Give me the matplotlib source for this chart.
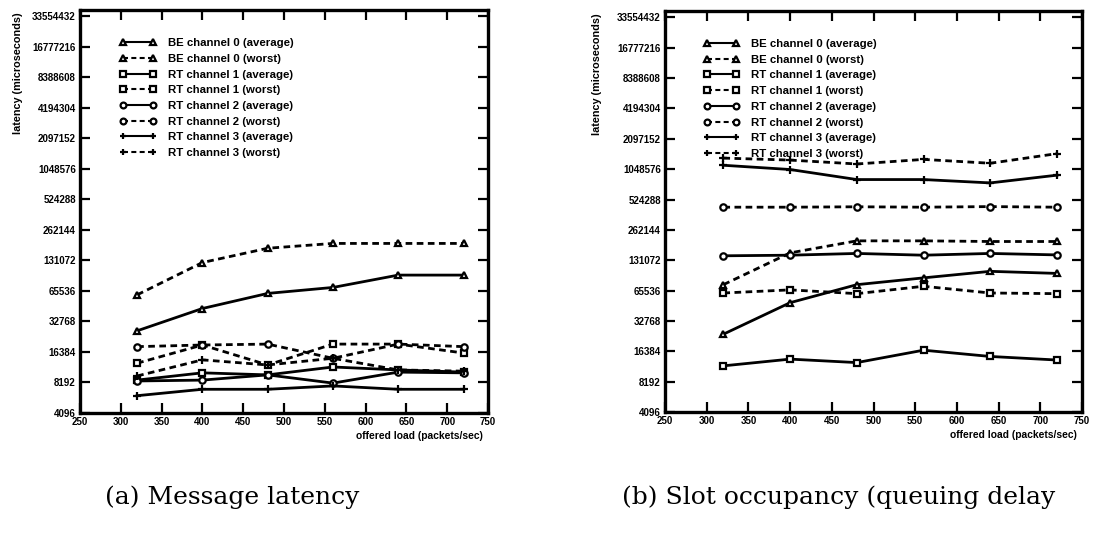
import matplotlib
matplotlib.use("Agg")
import matplotlib.pyplot as plt
from matplotlib.ticker import FixedLocator, NullLocator

# offered load (packets/sec)
load = [320, 400, 480, 560, 640, 720]

# (a) message latency, microseconds
lat_be0_avg = [26500, 44000, 62000, 71000, 94000, 94000]
lat_be0_worst = [60000, 125000, 173000, 193000, 193000, 193000]
lat_rt1_avg = [8650, 10200, 9740, 11650, 10900, 10370]
lat_rt1_worst = [12700, 19200, 12200, 19600, 19600, 16000]
lat_rt2_avg = [8480, 8650, 9740, 8080, 10370, 10200]
lat_rt2_worst = [18500, 19200, 19600, 14200, 19600, 18500]
lat_rt3_avg = [6070, 7020, 7020, 7580, 7020, 7020]
lat_rt3_worst = [9500, 13700, 12200, 14200, 10900, 10600]

# (b) slot occupancy (queuing delay), microseconds
occ_be0_avg = [24200, 49700, 75000, 87600, 101700, 97000]
occ_be0_worst = [75000, 155000, 204000, 204000, 201000, 201000]
occ_rt1_avg = [11750, 13700, 12660, 16800, 14560, 13420]
occ_rt1_worst = [62000, 66600, 61100, 72300, 62000, 61100]
occ_rt2_avg = [145000, 147000, 153000, 147000, 153000, 148000]
occ_rt2_worst = [440000, 440000, 444000, 440000, 446000, 440000]
occ_rt3_avg = [1146000, 1040000, 827000, 827000, 766000, 914000]
occ_rt3_worst = [1350000, 1290000, 1180000, 1310000, 1200000, 1495000]

series_names = [
    "BE channel 0 (average)", "BE channel 0 (worst)",
    "RT channel 1 (average)", "RT channel 1 (worst)",
    "RT channel 2 (average)", "RT channel 2 (worst)",
    "RT channel 3 (average)", "RT channel 3 (worst)",
]

x_ticks = [250, 300, 350, 400, 450, 500, 550, 600, 650, 700, 750]
y_ticks = [2 ** k for k in range(12, 26)]

caption_a = "(a) Message latency"
caption_b = "(b) Slot occupancy (queuing delay"
y_title = "latency (microseconds)"
x_title = "offered load (packets/sec)"

markers = ["^", "^", "s", "s", "o", "o", "+", "+"]
styles = ["-", "--"] * 4

SANS = "Liberation Sans"

fig = plt.figure(figsize=(10.93, 5.34), dpi=100)


def draw_panel(rect, data, leg_x):
    ax = fig.add_axes(rect)
    ax.set_yscale("log", base=2)
    for vals, name, mk, ls in zip(data, series_names, markers, styles):
        kw = dict(color="black", lw=2.0, marker=mk, ms=4.6 if mk != "+" else 6,
                  mfc="white", mec="black", mew=1.6, label=name)
        if ls == "--":
            kw["dashes"] = (2.4, 1.6)
        else:
            kw["linestyle"] = "-"
        ax.plot(load, vals, **kw)
    ax.set_xlim(250, 750)
    ax.set_ylim(4096, 2 ** 25.21)
    ax.xaxis.set_major_locator(FixedLocator(x_ticks))
    ax.set_xticklabels([str(v) for v in x_ticks])
    ax.yaxis.set_major_locator(FixedLocator(y_ticks))
    ax.yaxis.set_minor_locator(NullLocator())
    ax.set_yticklabels([str(v) for v in y_ticks])
    ax.tick_params(direction="in", length=7, width=1.6, top=True, right=True,
                   labelsize=7, pad=3)
    for lab in ax.get_xticklabels() + ax.get_yticklabels():
        lab.set_fontfamily(SANS)
        lab.set_fontweight("bold")
    for sp in ax.spines.values():
        sp.set_linewidth(2.4)
    leg = ax.legend(loc="upper left", bbox_to_anchor=(leg_x, 0.93),
                    frameon=False, numpoints=2, handlelength=3.2,
                    handletextpad=1.0, labelspacing=0.5, borderpad=0,
                    borderaxespad=0,
                    prop={"family": SANS, "weight": "bold", "size": 8.2})
    for h in leg.legend_handles:
        h.set_linewidth(1.5)
        h.set_markersize(4.2)
    ax.text(0.988, -0.058, x_title, transform=ax.transAxes, ha="right",
            va="center", fontsize=7.4, fontweight="bold", family=SANS)
    return ax


ax_a = draw_panel([80 / 1093, 121 / 534, 408 / 1093, 403 / 534],
                  [lat_be0_avg, lat_be0_worst, lat_rt1_avg, lat_rt1_worst,
                   lat_rt2_avg, lat_rt2_worst, lat_rt3_avg, lat_rt3_worst],
                  0.098)
ax_a.text(-0.152, 0.995, y_title, transform=ax_a.transAxes, rotation=90,
          ha="center", va="top", fontsize=7.8, fontweight="bold", family=SANS)

ax_b = draw_panel([665 / 1093, 122 / 534, 417 / 1093, 401 / 534],
                  [occ_be0_avg, occ_be0_worst, occ_rt1_avg, occ_rt1_worst,
                   occ_rt2_avg, occ_rt2_worst, occ_rt3_avg, occ_rt3_worst],
                  0.092)
ax_b.text(-0.162, 0.995, y_title, transform=ax_b.transAxes, rotation=90,
          ha="center", va="top", fontsize=7.8, fontweight="bold", family=SANS)

fig.text(232 / 1093, 1 - 497 / 534, caption_a, ha="center", va="center",
         fontsize=18, family="DejaVu Serif")
fig.text(622 / 1093, 1 - 497 / 534, caption_b, ha="left", va="center",
         fontsize=18, family="DejaVu Serif")

fig.savefig("out.png", dpi=100)
